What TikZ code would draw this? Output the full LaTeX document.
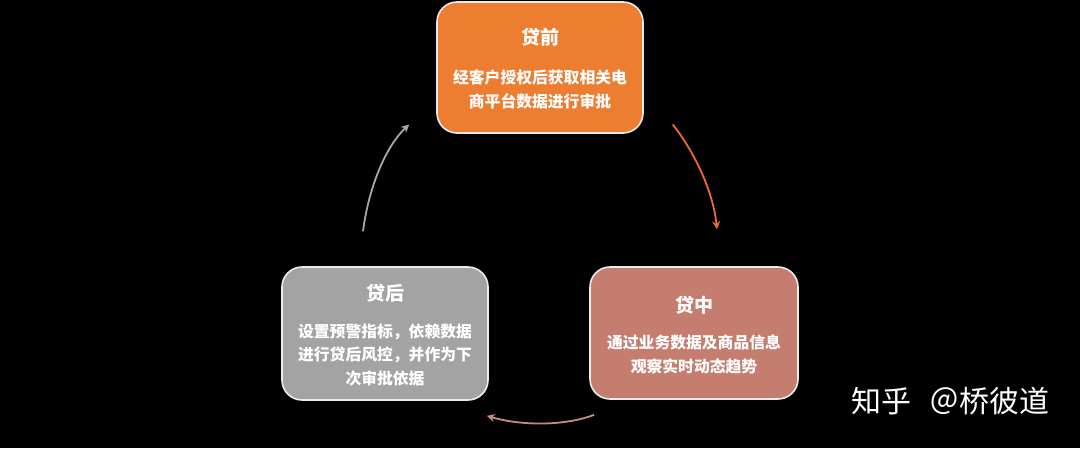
\documentclass[tikz,border=0pt]{standalone}
\usepackage{fontspec}
\setmainfont{Noto Sans CJK SC}
\usetikzlibrary{arrows.meta}
\definecolor{cOrange}{HTML}{ED7D31}
\definecolor{cGray}{HTML}{A3A3A3}
\definecolor{cBrown}{HTML}{C47D6E}
\definecolor{aGray}{HTML}{A8A8A8}
\definecolor{aOrange}{HTML}{F0683A}
\definecolor{aPink}{HTML}{C98A82}
\tikzset{
  box/.style={draw=white!85!gray, line width=1.6pt, rounded corners=20pt, inner sep=0pt},
  ttl/.style={text=white, font=\fontsize{19}{22}\selectfont\bfseries, inner sep=0pt},
  body/.style={text=white, font=\fontsize{15.8}{23.5}\selectfont\bfseries, align=center, inner sep=0pt},
  conn/.style={line width=1.8pt, -{Stealth[length=8pt,width=8pt]}},
  wm/.style={text=white, font=\fontsize{30}{34}\selectfont, inner sep=0pt, anchor=west}
}
\begin{document}
\begin{tikzpicture}[x=1pt,y=-1pt]
\fill[black] (0,0) rectangle (1080,448);
\useasboundingbox (0,0) rectangle (1080,448);
% boxes
\node[box, fill=cOrange, minimum width=206pt, minimum height=131pt] (pre) at (540,67.5) {};
\node[box, fill=cGray, minimum width=206pt, minimum height=133pt] (post) at (385,333.5) {};
\node[box, fill=cBrown, minimum width=208pt, minimum height=132pt] (mid) at (694,333) {};
% texts
\node[ttl] (preT) at (540,37) {贷前};
\node[body] (preB) at (540,89.5) {经客户授权后获取相关电\\商平台数据进行审批};
\node[ttl] (postT) at (385,293) {贷后};
\node[body] (postB) at (385,355) {设置预警指标，依赖数据\\进行贷后风控，并作为下\\次审批依据};
\node[ttl] (midT) at (694,305) {贷中};
\node[body] (midB) at (694,354.5) {通过业务数据及商品信息\\观察实时动态趋势};
% connectors
\coordinate (g1) at ([shift={(-22,-35)}]post.north);
\coordinate (g2) at ([shift={(-27,57)}]pre.west);
\draw[conn, aGray] (g1) .. controls (369,185) and (387,145) .. (g2);
\coordinate (o1) at ([shift={(29,57)}]pre.east);
\coordinate (o2) at ([shift={(23,-37)}]mid.north);
\draw[conn, aOrange] (o1) .. controls (693,150) and (713,190) .. (o2);
\coordinate (p1) at ([shift={(5,15)}]mid.south west);
\coordinate (p2) at ([shift={(-2,15)}]post.south east);
\draw[conn, aPink] (p1) .. controls (565,426) and (522,426) .. (p2);
% watermark
\node[wm] (wmk) at (851,401) {知乎};
\node[wm] (wmk2) at (929,401) {＠桥彼道};
\end{tikzpicture}
\end{document}
